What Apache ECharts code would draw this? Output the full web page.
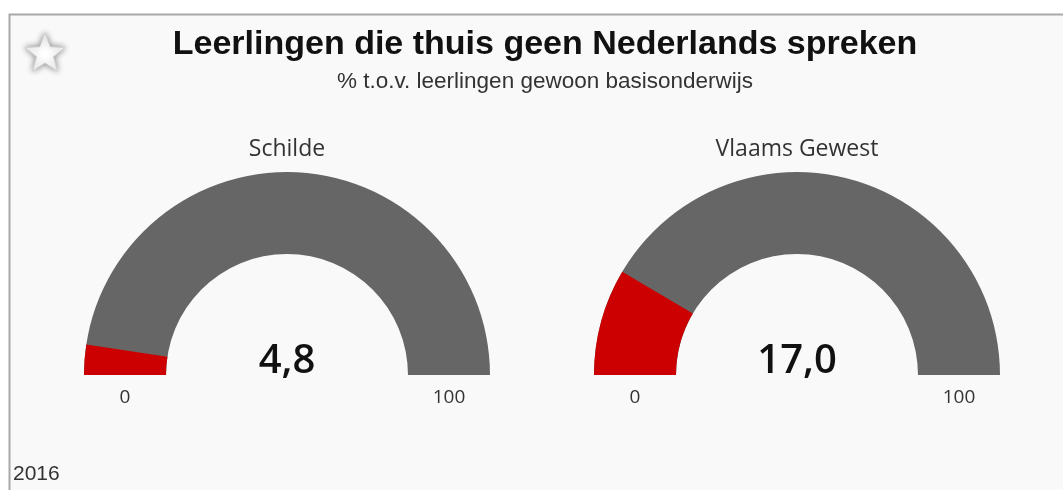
<!DOCTYPE html>
<html>
<head>
<meta charset="utf-8">
<script src="https://cdn.jsdelivr.net/npm/echarts@6/dist/echarts.min.js"></script>
<style>
  html, body { margin: 0; padding: 0; background: #fff; }
  #chart { width: 1063px; height: 490px; }
</style>
</head>
<body>
<div id="chart"></div>
<script>
// data
var regions = ['Schilde', 'Vlaams Gewest'];
var values = [4.8, 17.0];
var scaleMin = 0;
var scaleMax = 100;
var tickLabels = ['0', '100'];
var yearLabel = '2016';

var chart = echarts.init(document.getElementById('chart'));

var centersX = [287, 797];
var centerY = 375;
var outerR = 203;
var bandW = 82;

var fmt = function(v){ return v.toFixed(1).replace('.', ','); };

// star outline points
var starPts = [];
for (var i = 0; i < 10; i++) {
	var a = -Math.PI / 2 + i * Math.PI / 5;
	var r = (i % 2 === 0) ? 21 : 9;
	starPts.push([45 + r * Math.cos(a), 54 + r * Math.sin(a)]);
}

var series = regions.map(function(name, i){
	return {
		type: 'gauge',
		center: [centersX[i], centerY],
		radius: outerR,
		startAngle: 180,
		endAngle: 0,
		min: scaleMin,
		max: scaleMax,
		progress: { show: true, width: bandW, roundCap: false, itemStyle: { color: '#cc0000' } },
		axisLine: { lineStyle: { width: bandW, color: [[1, '#666666']] } },
		pointer: { show: false },
		axisTick: { show: false },
		splitLine: { show: false },
		axisLabel: { show: false },
		anchor: { show: false },
		title: {
			offsetCenter: [0, -226],
			fontSize: 23,
			color: '#333',
			fontFamily: 'Open Sans'
		},
		detail: {
			offsetCenter: [0, -13],
			fontSize: 40,
			fontWeight: 600,
			color: '#111',
			fontFamily: 'Open Sans',
			formatter: fmt
		},
		data: [{ value: values[i], name: name }]
	};
});

var graphics = [
	{ type: 'rect', z: -10, shape: { x: 9.5, y: 14.5, width: 1100, height: 500 },
	  style: { fill: '#f9f9f9', stroke: '#a8a8a8', lineWidth: 2 } },
	{ type: 'polygon', shape: { points: starPts },
	  style: { fill: '#ffffff', stroke: '#d0d0d0', lineWidth: 1, shadowBlur: 6, shadowColor: 'rgba(0,0,0,0.45)' } },
	{ type: 'text', x: 13, y: 474,
	  style: { text: yearLabel, fontSize: 21, fontFamily: 'Liberation Sans, Arial', fill: '#333', verticalAlign: 'middle' } }
];
// 0 / 100 under each gauge band
centersX.forEach(function(cx){
	var mid = outerR - bandW / 2;
	graphics.push({ type: 'text', x: cx - mid, y: 398,
		style: { text: tickLabels[0], fontSize: 19, fontFamily: 'Open Sans', fill: '#333', align: 'center', verticalAlign: 'middle' } });
	graphics.push({ type: 'text', x: cx + mid, y: 398,
		style: { text: tickLabels[1], fontSize: 19, fontFamily: 'Open Sans', fill: '#333', align: 'center', verticalAlign: 'middle' } });
});

var option = {
	backgroundColor: '#ffffff',
	title: {
		text: 'Leerlingen die thuis geen Nederlands spreken',
		subtext: '% t.o.v. leerlingen gewoon basisonderwijs',
		left: 540,
		textAlign: 'center',
		top: 23,
		itemGap: 8,
		textStyle: { fontSize: 34, fontWeight: 'bold', color: '#111', fontFamily: 'Liberation Sans, Arial' },
		subtextStyle: { fontSize: 22.5, color: '#333', fontFamily: 'Liberation Sans, Arial' }
	},
	graphic: graphics,
	series: series
};
chart.setOption(option);
</script>
</body>
</html>
